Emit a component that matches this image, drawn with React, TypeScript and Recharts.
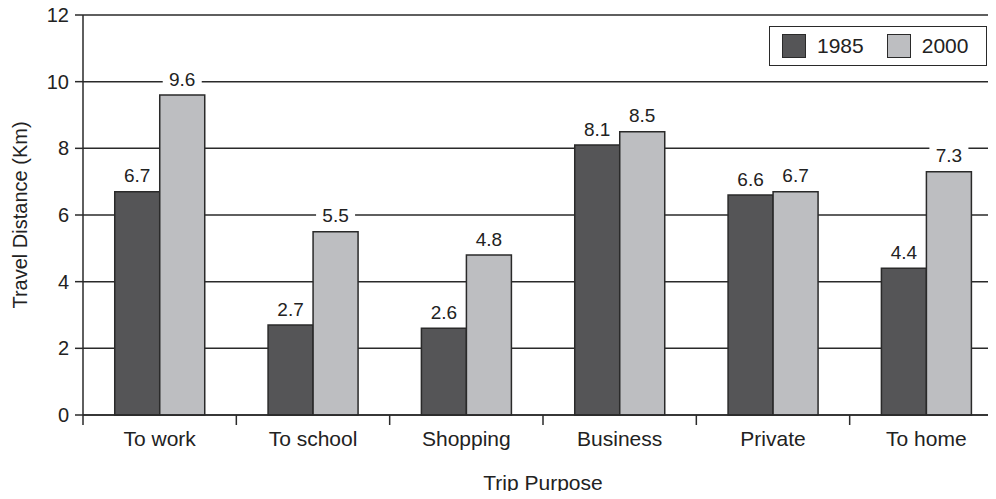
import React from 'react';
import { BarChart, Bar, XAxis, YAxis, CartesianGrid, Legend, LabelList } from 'recharts';

const categories = ['To work', 'To school', 'Shopping', 'Business', 'Private', 'To home'];
const values1985 = [6.7, 2.7, 2.6, 8.1, 6.6, 4.4];
const values2000 = [9.6, 5.5, 4.8, 8.5, 6.7, 7.3];
const yTicks = [0, 2, 4, 6, 8, 10, 12];
const seriesNames = ['1985', '2000'];
const seriesColors = ['#555557', '#bdbec1'];

const data = categories.map((c, i) => ({ name: c, y1985: values1985[i], y2000: values2000[i] }));

const FONT = '"Liberation Sans", Arial, sans-serif';
const INK = '#2a2a2a';

const ValueLabel = (props: any) => {
  const { x, y, width, value } = props;
  const cx = Number(x) + Number(width) / 2;
  const cy = Number(y) - 16;
  const text = String(value);
  const w = text.length * 9 + 12;
  return (
    <g>
      <rect x={cx - w / 2} y={cy - 9} width={w} height={18} fill="#fff" />
      <text x={cx} y={cy} textAnchor="middle" dominantBaseline="central" fontSize={19} fill="#222" fontFamily={FONT}>
        {text}
      </text>
    </g>
  );
};

// category label at the band centre, tick marks at the band boundaries
const CategoryTick = (props: any) => {
  const { x, y, payload, index, visibleTicksCount, width } = props;
  let half = payload && typeof payload.offset === 'number' && payload.offset > 0 ? payload.offset : 0;
  if (!half && width && visibleTicksCount) half = Number(width) / Number(visibleTicksCount) / 2;
  const isLast = index === Number(visibleTicksCount) - 1;
  return (
    <g>
      <line x1={x - half} x2={x - half} y1={y} y2={y + 10} stroke={INK} strokeWidth={1.5} />
      {isLast && <line x1={x + half} x2={x + half} y1={y} y2={y + 10} stroke={INK} strokeWidth={1.5} />}
      <text x={x} y={y + 23} textAnchor="middle" dominantBaseline="central" fontSize={21} fill="#222" fontFamily={FONT}>
        {payload.value}
      </text>
    </g>
  );
};

const LegendBox = () => (
  <div
    style={{
      width: 218,
      height: 40,
      boxSizing: 'border-box',
      border: `1.5px solid ${INK}`,
      background: '#fff',
      display: 'flex',
      alignItems: 'center',
      padding: '0 12px',
      fontFamily: FONT,
      fontSize: 21,
      color: '#222',
    }}
  >
    {seriesNames.map((n, i) => (
      <div key={n} style={{ display: 'flex', alignItems: 'center', marginRight: i === 0 ? 23 : 0 }}>
        <div
          style={{
            width: 24,
            height: 24,
            boxSizing: 'border-box',
            border: `1.5px solid ${INK}`,
            background: seriesColors[i],
            marginRight: 11,
          }}
        />
        <span>{n}</span>
      </div>
    ))}
  </div>
);

const YLabel = (props: any) => {
  const vb = props.viewBox || {};
  const cy = Number(vb.y) + Number(vb.height) / 2;
  const cx = 20;
  return (
    <text
      x={cx}
      y={cy}
      transform={`rotate(-90, ${cx}, ${cy})`}
      textAnchor="middle"
      dominantBaseline="central"
      fontSize={20}
      fill="#222"
      fontFamily={FONT}
    >
      Travel Distance (Km)
    </text>
  );
};

const XLabel = (props: any) => {
  const vb = props.viewBox || {};
  const cx = Number(vb.x) + Number(vb.width) / 2;
  const baseline = Number(vb.y) + 75;
  return (
    <text x={cx} y={baseline} textAnchor="middle" fontSize={21} fill="#222" fontFamily={FONT}>
      Trip Purpose
    </text>
  );
};

export default function App() {
  return (
    <div style={{ width: 996, height: 499, overflow: 'hidden', margin: -8, position: 'relative', background: '#fff' }}>
      <BarChart
        width={1010}
        height={499}
        data={data}
        margin={{ top: 15, right: 7, left: 0, bottom: 0 }}
        barCategoryGap="20.7%"
        barGap={0}
        style={{ fontFamily: FONT }}
      >
        <CartesianGrid horizontal vertical={false} stroke={INK} strokeWidth={1.5} />
        <XAxis
          dataKey="name"
          height={84}
          interval={0}
          tick={<CategoryTick />}
          tickLine={false}
          tickSize={0}
          tickMargin={0}
          axisLine={{ stroke: INK, strokeWidth: 1.5 }}
          label={<XLabel />}
        />
        <YAxis
          width={83}
          domain={[0, 12]}
          ticks={yTicks}
          interval={0}
          tickSize={8}
          tickMargin={6}
          axisLine={{ stroke: INK, strokeWidth: 1.5 }}
          tickLine={{ stroke: INK, strokeWidth: 1.5 }}
          tick={{ fill: '#222', fontSize: 20, fontFamily: FONT }}
          label={<YLabel />}
        />
        <Legend
          layout="vertical"
          align="center"
          verticalAlign="middle"
          content={<LegendBox />}
          wrapperStyle={{ position: 'absolute', top: 26, left: 769, width: 218 }}
        />
        <Bar dataKey="y1985" name={seriesNames[0]} fill={seriesColors[0]} stroke={INK} strokeWidth={1.5} isAnimationActive={false}>
          <LabelList dataKey="y1985" content={<ValueLabel />} />
        </Bar>
        <Bar dataKey="y2000" name={seriesNames[1]} fill={seriesColors[1]} stroke={INK} strokeWidth={1.5} isAnimationActive={false}>
          <LabelList dataKey="y2000" content={<ValueLabel />} />
        </Bar>
      </BarChart>
    </div>
  );
}
